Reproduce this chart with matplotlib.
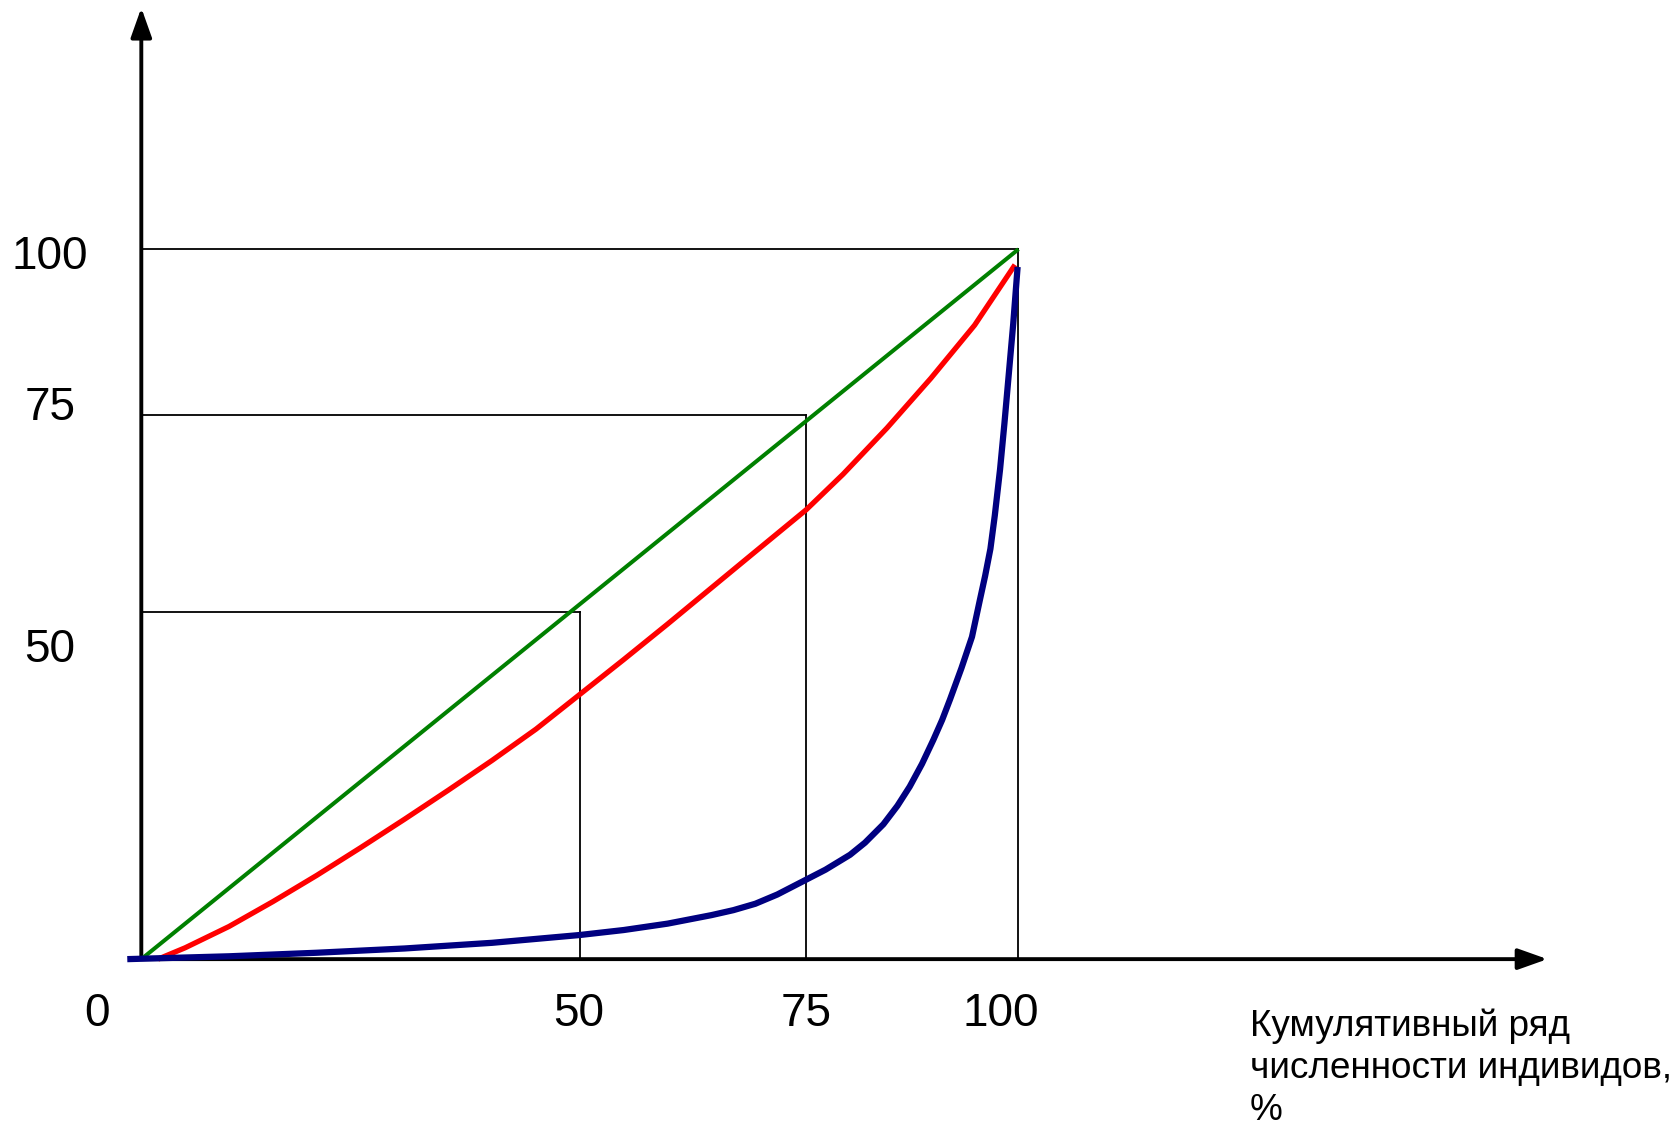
import matplotlib.pyplot as plt

plt.rcParams['font.family'] = ['Liberation Sans', 'DejaVu Sans']

# curves (x = cumulative share of individuals, %)
green_x = [0, 100]
green_y = [0, 100]

red_x = [1.9, 5, 10, 15, 20, 25, 30, 35, 40, 45, 49.9, 55, 60, 65, 70, 75.8,
         80, 85, 90, 95, 99.6]
red_y = [0, 1.6, 4.6, 8.1, 11.8, 15.7, 19.7, 23.8, 28.0, 32.4, 37.2, 42.2, 47.2, 52.3, 57.4, 63.3,
         68.3, 74.8, 81.8, 89.3, 97.8]

blue_x = [-1.6, 10, 20, 30, 40, 50, 55, 60, 65, 67.5, 70, 72.5, 75.8, 78, 80.8, 82.5, 84.6,
          86.2, 87.6, 89, 90.3, 91.3, 92.2, 93.5, 94.7, 95.6, 96.2, 96.8, 97.3, 97.9, 98.4,
          98.9, 99.4, 99.9]
blue_y = [0, 0.4, 0.9, 1.5, 2.3, 3.4, 4.1, 5.0, 6.2, 6.9, 7.8, 9.1, 11.2, 12.6, 14.7, 16.4, 19.0,
          21.6, 24.3, 27.5, 30.9, 33.7, 36.6, 41.0, 45.4, 50.6, 54.0, 57.8, 62.5, 69.0, 75.5,
          82.5, 89.5, 97.5]

# guide lines (where they are drawn in the picture)
guide_x = [50, 75.8, 100]
guide_y = [48.9, 76.6, 100]

xtick_pos = [-5.1, 49.9, 75.8, 98.0]
xtick_lbl = ['0', '50', '75', '100']
ytick_pos = [98.9, 77.6, 43.6]
ytick_lbl = ['100', '75', '50']

xlabel = 'Кумулятивный ряд\nчисленности индивидов,\n%'

fig = plt.figure(figsize=(16.79, 11.21), dpi=100)
ax = fig.add_axes([0, 0, 1, 1])
ax.set_xlim(-16.11, 175.3)
ax.set_ylim(-22.8, 135.1)
ax.axis('off')

# thin guide lines
for gx, gy in zip(guide_x, guide_y):
    ax.plot([0, gx], [gy, gy], color='black', lw=1.3, zorder=2)
    ax.plot([gx, gx], [0, gy], color='black', lw=1.3, zorder=2)

# axes with arrow heads
arr = dict(arrowstyle='-|>,head_length=0.9,head_width=0.32', color='black', lw=2.8,
           mutation_scale=20, shrinkA=0, shrinkB=0)
ax.annotate('', xy=(160.3, 0), xytext=(0, 0), arrowprops=arr, zorder=3)
ax.annotate('', xy=(0, 134.0), xytext=(0, 0), arrowprops=arr, zorder=3)

ax.plot(green_x, green_y, color='#008000', lw=2.9, zorder=4, solid_capstyle='butt')
ax.plot(red_x, red_y, color='#ff0000', lw=3.8, zorder=5,
        solid_capstyle='butt', solid_joinstyle='round')
ax.plot(blue_x, blue_y, color='#000080', lw=4.5, zorder=6,
        solid_capstyle='butt', solid_joinstyle='round')

for p, t in zip(xtick_pos, xtick_lbl):
    ax.text(p, -7.7, t, fontsize=33, ha='center', va='center')
for p, t in zip(ytick_pos, ytick_lbl):
    ax.text(-10.4, p, t, fontsize=33, ha='center', va='center')

ax.text(126.4, -7.0, xlabel, fontsize=26.6, ha='left', va='top', linespacing=1.25)

plt.savefig('out.png', dpi=100)
